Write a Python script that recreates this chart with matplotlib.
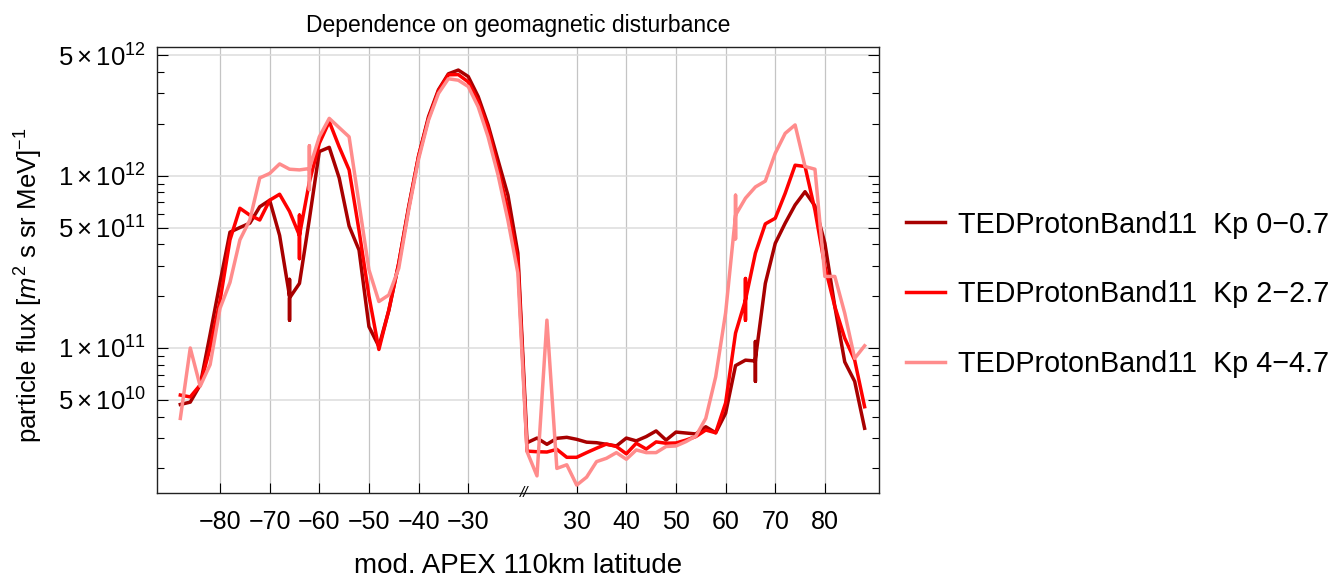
import numpy as np
import matplotlib
matplotlib.use("Agg")
import matplotlib.pyplot as plt

plt.rcParams['font.family'] = ['Liberation Sans', 'DejaVu Sans']
plt.rcParams['mathtext.fontset'] = 'custom'
plt.rcParams['mathtext.rm'] = 'Liberation Sans'
plt.rcParams['mathtext.it'] = 'Liberation Sans:italic'

# values (repeated latitudes = the short vertical strokes)
lat_kp0 = [-88, -86, -84, -82, -80, -78, -76, -74, -72, -70, -68, -66, -66, -66, -66,
           -64, -62, -60, -58, -56, -54, -52, -50, -48, -46, -44, -42, -40, -38, -36,
           -34, -32, -30, -28, -26, -24, -22, -20,
           20, 22, 24, 26, 28, 30, 32, 34, 36, 38, 40, 42, 44, 46, 48, 50, 52, 54, 56,
           58, 60, 62, 64, 66, 66, 66, 66, 68, 70, 72, 74, 76, 78, 80, 82, 84, 86, 88]
flux_kp0 = [4.7e10, 4.85e10, 6.1e10, 1.2e11, 2.4e11, 4.7e11, 5.0e11, 5.3e11, 6.6e11, 7.2e11,
            4.5e11, 2.0e11, 2.5e11, 1.45e11, 1.95e11,
            2.37e11, 5.6e11, 1.38e12, 1.46e12, 9.7e11, 5.1e11, 3.7e11, 1.33e11, 1.02e11,
            1.65e11, 3.1e11, 6.6e11, 1.3e12, 2.2e12, 3.15e12, 3.9e12, 4.1e12, 3.76e12,
            2.88e12, 1.97e12, 1.23e12, 7.7e11, 3.55e11,
            2.82e10, 3.0e10, 2.76e10, 2.99e10, 3.03e10, 2.95e10, 2.84e10, 2.82e10, 2.76e10,
            2.70e10, 3.0e10, 2.89e10, 3.06e10, 3.30e10, 2.92e10, 3.25e10, 3.21e10, 3.17e10,
            3.49e10, 3.22e10, 4.18e10, 7.9e10, 8.5e10, 8.4e10, 1.09e11, 6.4e10, 8.6e10,
            2.37e11, 4.05e11, 5.3e11, 6.76e11, 8.07e11, 6.67e11, 4.05e11, 1.74e11, 8.3e10,
            6.4e10, 3.42e10]

lat_kp2 = [-88, -86, -84, -82, -80, -78, -76, -74, -72, -70, -68, -66, -64, -64, -64, -64,
           -62, -60, -58, -56, -54, -52, -50, -48, -46, -44, -42, -40, -38, -36,
           -34, -32, -30, -28, -26, -24, -22, -20,
           20, 22, 24, 26, 28, 30, 32, 34, 36, 38, 40, 42, 44, 46, 48, 50, 52, 54, 56,
           58, 60, 62, 64, 64, 64, 64, 66, 68, 70, 72, 74, 76, 78, 80, 82, 84, 86, 88]
flux_kp2 = [5.33e10, 5.2e10, 6.1e10, 1.0e11, 1.88e11, 4.24e11, 6.47e11, 5.9e11, 5.53e11,
            7.2e11, 7.8e11, 6.2e11, 4.5e11, 5.9e11, 3.3e11, 4.5e11,
            9.2e11, 1.54e12, 2.06e12, 1.47e12, 1.08e12, 4.8e11, 2.0e11, 9.8e10, 1.66e11,
            3.1e11, 6.5e11, 1.3e12, 2.15e12, 3.1e12, 3.85e12, 3.86e12, 3.5e12, 2.7e12,
            1.88e12, 1.1e12, 6.3e11, 3.24e11,
            2.52e10, 2.5e10, 2.49e10, 2.58e10, 2.32e10, 2.32e10, 2.47e10, 2.62e10, 2.77e10,
            2.68e10, 2.43e10, 2.8e10, 2.59e10, 2.85e10, 2.8e10, 2.81e10, 2.92e10, 3.06e10,
            3.34e10, 3.22e10, 4.8e10, 1.22e11, 1.9e11, 2.53e11, 1.45e11, 1.9e11,
            3.55e11, 5.25e11, 5.66e11, 7.9e11, 1.15e12, 1.13e12, 6.3e11, 2.97e11, 1.74e11,
            1.14e11, 8.5e10, 4.56e10]

lat_kp4 = [-88, -86, -84, -82, -80, -78, -76, -74, -72, -70, -68, -66, -64, -62, -62, -62,
           -62, -60, -58, -56, -54, -52, -50, -48, -46, -44, -42, -40, -38, -36,
           -34, -32, -30, -28, -26, -24, -22, -20,
           20, 22, 24, 26, 28, 30, 32, 34, 36, 38, 40, 42, 44, 46, 48, 50, 52, 54, 56,
           58, 60, 62, 62, 62, 62, 64, 66, 68, 70, 72, 74, 76, 78, 80, 82, 84, 86, 88]
flux_kp4 = [3.9e10, 1.0e11, 6.0e10, 8.0e10, 1.7e11, 2.4e11, 4.24e11, 5.53e11, 9.7e11,
            1.03e12, 1.17e12, 1.09e12, 1.08e12, 1.1e12, 1.49e12, 8.3e11, 1.1e12,
            1.68e12, 2.15e12, 1.9e12, 1.68e12, 6.9e11, 2.84e11, 1.86e11, 2.03e11, 2.9e11,
            6.3e11, 1.25e12, 2.1e12, 3.0e12, 3.65e12, 3.58e12, 3.29e12, 2.51e12, 1.68e12,
            1.01e12, 5.5e11, 2.72e11,
            2.5e10, 1.81e10, 1.45e11, 2.0e10, 2.1e10, 1.6e10, 1.78e10, 2.19e10, 2.29e10,
            2.47e10, 2.26e10, 2.56e10, 2.47e10, 2.47e10, 2.68e10, 2.7e10, 2.86e10, 3.08e10,
            3.9e10, 6.8e10, 1.6e11, 5.9e11, 7.7e11, 4.3e11, 5.9e11, 7.4e11, 8.6e11, 9.3e11,
            1.35e12, 1.76e12, 1.97e12, 1.13e12, 1.09e12, 2.6e11, 2.6e11, 1.59e11, 8.7e10,
            1.03e11]

labels = ["TEDProtonBand11  Kp 0\u22120.7",
          "TEDProtonBand11  Kp 2\u22122.7",
          "TEDProtonBand11  Kp 4\u22124.7"]
colors = ["#a80000", "#ff0000", "#ff8c8c"]

xticks = [-80, -70, -60, -50, -40, -30, 30, 40, 50, 60, 70, 80]
ymajor = [5e10, 1e11, 5e11, 1e12, 5e12]
ylabels = [r"$5\times10^{10}$", r"$1\times10^{11}$", r"$5\times10^{11}$",
           r"$1\times10^{12}$", r"$5\times10^{12}$"]

# the gap between -20 and 20 deg is squeezed together
SHIFT = 38.15
SQ = (40 - SHIFT) / 40.0


def fwd(x):
    x = np.asarray(x, dtype=float)
    return np.where(x <= -20, x, np.where(x >= 20, x - SHIFT, -20 + (x + 20) * SQ))


def inv(u):
    u = np.asarray(u, dtype=float)
    return np.where(u <= -20, u, np.where(u >= 20 - SHIFT, u + SHIFT, -20 + (u + 20) / SQ))


fig = plt.figure(figsize=(13.37, 5.78), dpi=100)
ax = fig.add_axes([157 / 1337, 85 / 578, 722 / 1337, 446 / 578])
ax.set_xscale('function', functions=(fwd, inv))
ax.set_yscale('log')

for la, fl, c, lab in zip([lat_kp0, lat_kp2, lat_kp4], [flux_kp0, flux_kp2, flux_kp4],
                          colors, labels):
    ax.plot(la, fl, color=c, lw=2.5, label=lab)

ax.set_xticks(xticks)
ax.set_xticklabels([str(t).replace('-', '\u2212') for t in xticks])
ax.xaxis.set_minor_locator(matplotlib.ticker.NullLocator())
ax.set_yticks(ymajor)
ax.set_yticklabels(ylabels)
minors = [m * 10.0 ** e for e in (10, 11, 12) for m in range(1, 10)]
minors = [v for v in minors if v not in ymajor]
ax.set_yticks(minors, minor=True)
ax.yaxis.set_minor_formatter(matplotlib.ticker.NullFormatter())

# limits after the ticks, so the ticks do not widen them
ax.set_xlim(-92.7, 90.9)
ax.set_ylim(1.44e10, 5.58e12)

ax.tick_params(axis='x', which='major', direction='in', length=7, width=0.8,
               labelsize=18, pad=12, top=False)
ax.tick_params(axis='y', which='major', direction='in', length=8, width=0.8,
               labelsize=18.5, pad=8, right=True)
ax.tick_params(axis='y', which='minor', direction='in', length=5, width=0.8, right=True)

for x in xticks:
    ax.axvline(x, color='#c4c4c4', lw=0.9, zorder=0)
for y in ymajor:
    ax.axhline(y, color='#dcdcdc', lw=1.1, zorder=0)

for s in ax.spines.values():
    s.set_linewidth(1.0)
    s.set_color('#222222')

# axis break mark
ax.text(8.0, 0.0, '//', transform=ax.get_xaxis_transform(), ha='center', va='center',
        fontsize=11, fontstyle='italic', clip_on=False)

ax.set_xlabel('mod. APEX 110km latitude', fontsize=20, labelpad=14)
ax.set_ylabel(r'particle flux [$m^2$ s sr MeV]$^{-1}$', fontsize=18.5)
ax.yaxis.set_label_coords(-0.155, 0.465)
ax.set_title('Dependence on geomagnetic disturbance', fontsize=16.5, pad=11)

fig.legend(loc='center left', bbox_to_anchor=(0.669, 0.491), frameon=False,
           fontsize=20.7, handlelength=1.35, handletextpad=0.45, labelspacing=1.45,
           borderaxespad=0)

fig.savefig('out.png', dpi=100)
